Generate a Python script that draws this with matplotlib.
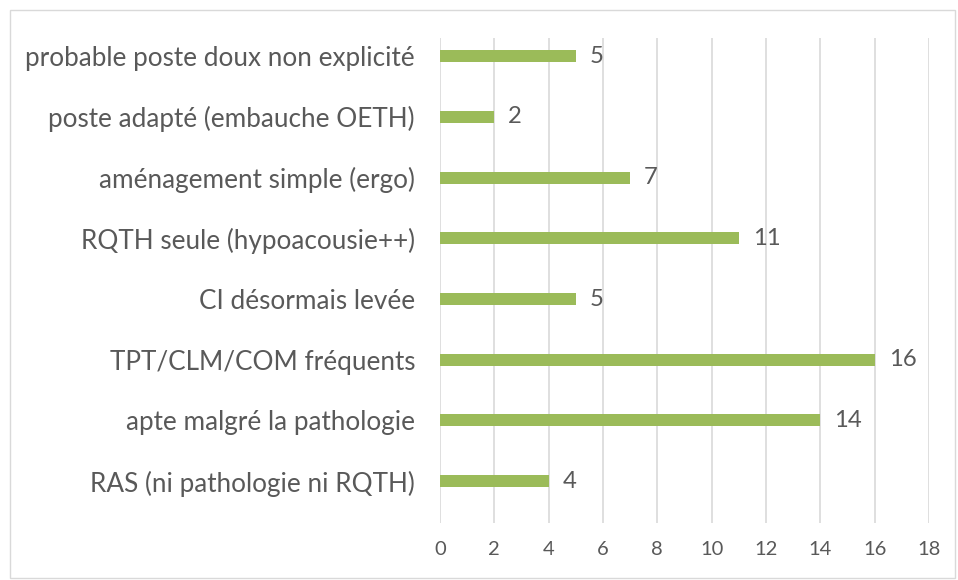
import matplotlib
matplotlib.use("Agg")
import matplotlib.pyplot as plt
from matplotlib.patches import Rectangle

categories = [
    "probable poste doux non explicité",
    "poste adapté (embauche OETH)",
    "aménagement simple (ergo)",
    "RQTH seule (hypoacousie++)",
    "CI désormais levée",
    "TPT/CLM/COM fréquents",
    "apte malgré la pathologie",
    "RAS (ni pathologie ni RQTH)",
]
values = [5, 2, 7, 11, 5, 16, 14, 4]
xticks = [0, 2, 4, 6, 8, 10, 12, 14, 16, 18]

TEXT = "#595959"
BAR = "#9BBB59"
GRID = "#D9D9D9"

plt.rcParams['font.family'] = ['Lato', 'DejaVu Sans']

fig = plt.figure(figsize=(9.58, 5.80), dpi=100)
fig.patches.append(Rectangle((10/958, 2/580), 945/958, 568/580, transform=fig.transFigure,
                             fill=False, edgecolor=GRID, linewidth=1))
ax = fig.add_axes([440/958, 1 - 523/580, 489/958, 485/580])

ypos = list(range(len(categories)))
ax.barh(ypos, values, height=0.2, color=BAR, zorder=3)
for y, v in zip(ypos, values):
    ax.annotate(str(v), (v, y), xytext=(10, 0), textcoords="offset points",
                va="center", ha="left", fontsize=17.2, color=TEXT)

ax.set_xlim(0, 18)
ax.set_ylim(7.69, -0.30)
ax.set_xticks(xticks)
ax.set_xticklabels([str(t) for t in xticks])
ax.set_yticks(ypos)
ax.set_yticklabels(categories)
ax.tick_params(axis='y', length=0, pad=18, labelsize=18.8, labelcolor=TEXT)
ax.tick_params(axis='x', length=0, pad=13, labelsize=14.5, labelcolor=TEXT)
ax.grid(axis='x', color=GRID, linewidth=1.2, zorder=0)
for s in ax.spines.values():
    s.set_visible(False)

fig.savefig("out.png", dpi=100)
